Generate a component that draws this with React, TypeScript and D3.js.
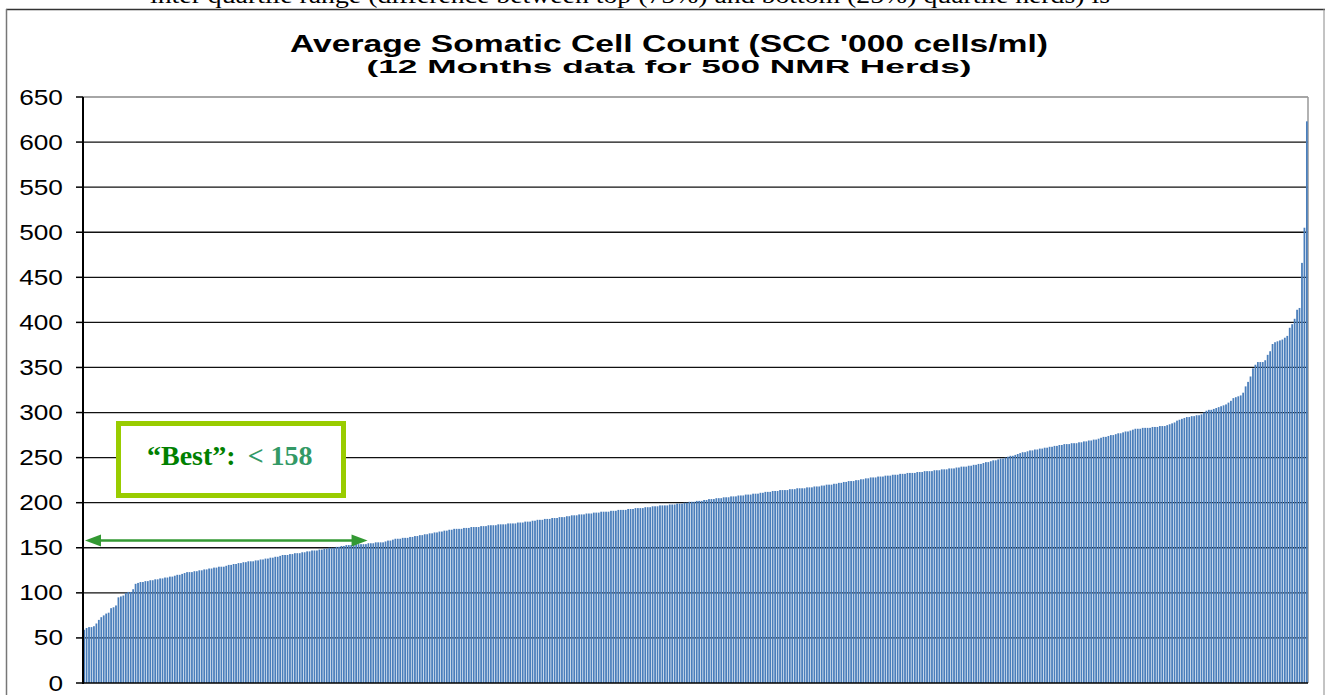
import React from "react";
import * as d3 from "d3";

const title = "Average Somatic Cell Count (SCC '000 cells/ml)";
const subtitle = "(12 Months data for 500 NMR Herds)";
const clippedNote = "inter quartile range (difference between top (75%) and bottom (25%) quartile herds) is";
const yTicks = [0, 50, 100, 150, 200, 250, 300, 350, 400, 450, 500, 550, 600, 650];
const bestLabel = "\u201CBest\u201D:";
const bestValue = "< 158";
const bestLimit = 158;
const bestCount = 125;

// herd SCC values, sorted ascending (500 herds)
const herdsA = [59,61,62,62,63,66,70,73,75,77,78,83,84,86,95,96,97,100,101,101,104,110,111,112,112];
const herdsB = [113,113,114,114,115,115,116,116,117,117,118,118,119,120,120,121,122,123,123,123,124,124,125,125];
const herdsC = [126,126,127,127,128,128,129,129,129,130,131,131,
  132,132,133,133,134,134,135,135,135,136,136,137,137,138,138,
  139,139,140,140,141,142,142,142,143,143,144,144,144,145,
  145,146,146,147,147,147,148,148,149,149,150,150,150];
const herdsD = [151,151,152,152,153,153,153,153,154,154,154,154,154,155,
  155,155,156,156,156,156,157,158,158,159,160,160,160,161,161,161,162,162,163,163];
const herdsE = [164,164,165,165,166,166,167,167,168,168,169,169,170,
  170,171,171,171,171,172,172,172,173,173,173,173,174,174,174,175,175,175,175,176,176,176,176,177,177,177,177];
const herdsF = [178,178,178,179,179,179,180,180,181,181,181,182,182,182,183,183,183,184,184,184,185,185,186,186,186,187,187,
  187,188,188,188,189,189,189,190,190,190,190,191,191,191,192,192,192,192,193,193,193,194,194,194,194,195,195];
const herdsG = [195,196,196,196,197,197,197,197,198,198,198,199,199,199,200,200,201,201,201,202,202,202,203,203,204,204,
  204,205,205,205,206,206,206,207,207,207,208,208,208,209,209,209,210,210,210,211,211,212,212];
const herdsH = [212,213,213,213,214,214,214,214,215,215,215,216,216,216,216,217,217,217,218,218,218,219,219,220,220,220,221,
  221,222,222,223,223,224,224,224,225,225,226,226,227,227,228,228,228,229,229,229,230,230,230,231,231,231,232];
const herdsI = [232,232,233,233,233,233,234,234,234,235,235,235,235,236,236,236,237,237,237,238,238,238,239,239,240,240,240,241,
  241,242,242,243,243,244,245,245,246,247,247,248,249,249,250,251,252,252,253,254,255,256,256,257,258];
const herdsJ = [258,259,259,260,260,261,261,262,262,263,263,264,264,265,265,265,266,266,266,267,267,268,268,269,269,270,270,271,272,
  273,273,274,275,275,276,277,277,278,279,279,280,281,282,
  282,282,283,283,283,283,284,284,284,285,285,285,286];
const herdsK = [287,288,289,291,292,293,294,295,295,296,296,297,297,298,
  300,302,303,303,304,305,306,307,308,309,311,313,316,
  317,318,319,322,329,334,340,
  349,353,356,356,356,358,364,368,376,378,379,380,381,383,385,394,398,404,414,416,466,505,623];

const herds = [...herdsA, ...herdsB, ...herdsC, ...herdsD, ...herdsE, ...herdsF, ...herdsG, ...herdsH, ...herdsI, ...herdsJ, ...herdsK];

const W = 1325, H = 695;
const plot = { left: 83, right: 1308, top: 97, bottom: 683 };

export default function App() {
  const x = d3.scaleBand<number>().domain(herds.map((_, i) => i)).range([plot.left, plot.right]).paddingInner(0.28).paddingOuter(0.1);
  const y = d3.scaleLinear().domain([0, 650]).range([plot.bottom, plot.top]);
  const arrowY = y(bestLimit);
  const arrowX0 = plot.left + 2;
  const arrowX1 = (x(bestCount) ?? 0) - 22;
  const serif = "'Liberation Serif', 'Times New Roman', serif";
  const sans = "'Liberation Sans', Arial, sans-serif";
  return (
    <div style={{ position: "absolute", left: 0, top: 0, width: W, height: H, background: "#fff" }}>
      <svg width={W} height={H} style={{ display: "block" }}>
        <rect x={0} y={0} width={W} height={H} fill="#fff" />
        <text x={150} y={2.5} fontFamily={serif} fontSize={24} textLength={960} lengthAdjust="spacingAndGlyphs" fill="#000">{clippedNote}</text>
        <line x1={6} x2={W} y1={9.5} y2={9.5} stroke="#333" strokeWidth={1.5} />
        <line x1={6.5} x2={6.5} y1={9} y2={H} stroke="#777" strokeWidth={1.5} />
        <line x1={1324} x2={1324} y1={9} y2={H} stroke="#888" strokeWidth={1} />
        <text x={669} y={52} textAnchor="middle" fontFamily={sans} fontWeight="bold" fontSize={23} textLength={758} lengthAdjust="spacingAndGlyphs" fill="#000">{title}</text>
        <text x={669} y={73} textAnchor="middle" fontFamily={sans} fontWeight="bold" fontSize={19} textLength={605} lengthAdjust="spacingAndGlyphs" fill="#000">{subtitle}</text>
        {yTicks.map((t) => (
          <g key={t}>
            {t > 0 && t < 650 && (
              <line x1={plot.left} x2={plot.right} y1={y(t)} y2={y(t)} stroke="#111" strokeWidth={1.3} />
            )}
            <line x1={plot.left - 7} x2={plot.left} y1={y(t)} y2={y(t)} stroke="#000" strokeWidth={1.5} />
            <text x={63} y={y(t) + 7.5} textAnchor="end" fontFamily={sans} fontSize={22} textLength={String(t).length * 14.6} lengthAdjust="spacingAndGlyphs" fill="#000">{t}</text>
          </g>
        ))}
        <line x1={plot.left} x2={plot.right} y1={y(650)} y2={y(650)} stroke="#888" strokeWidth={1.5} />
        <line x1={plot.right} x2={plot.right} y1={y(650)} y2={plot.bottom} stroke="#999" strokeWidth={1.5} />
        {herds.map((v, i) => (
          <rect key={i} x={x(i)} y={y(v)} width={x.bandwidth()} height={plot.bottom - y(v)} fill="#4A7EBB" />
        ))}
        <line x1={plot.left} x2={plot.right} y1={plot.bottom} y2={plot.bottom} stroke="#000" strokeWidth={1.5} />
        <line x1={plot.left} x2={plot.left} y1={y(650)} y2={plot.bottom + 1} stroke="#000" strokeWidth={2} />
        <line x1={arrowX0 + 14} x2={arrowX1 - 14} y1={arrowY} y2={arrowY} stroke="#339933" strokeWidth={2.5} />
        <path d={`M${arrowX0},${arrowY} L${arrowX0 + 16},${arrowY - 6} L${arrowX0 + 16},${arrowY + 6} Z`} fill="#339933" />
        <path d={`M${arrowX1},${arrowY} L${arrowX1 - 16},${arrowY - 6} L${arrowX1 - 16},${arrowY + 6} Z`} fill="#339933" />
        <rect x={118.5} y={423.5} width={225} height={72} fill="#fff" stroke="#99CC00" strokeWidth={5} />
        <text x={147} y={465} fontFamily={serif} fontWeight="bold" fontSize={28} fill="#008000">
          {bestLabel}
          <tspan dx={12} fill="#339966">{bestValue}</tspan>
        </text>
      </svg>
    </div>
  );
}
